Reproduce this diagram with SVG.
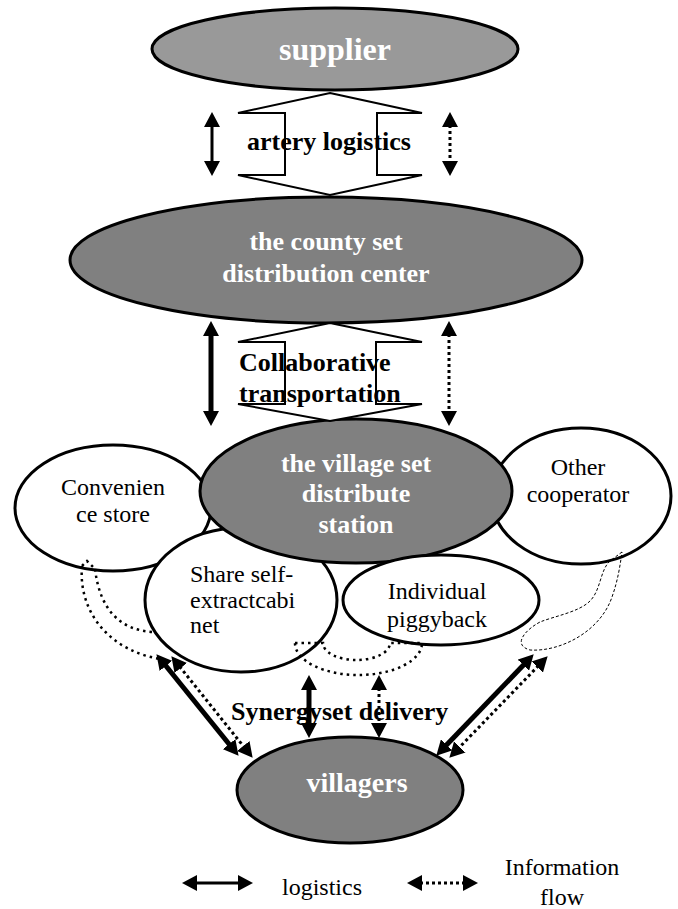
<svg xmlns="http://www.w3.org/2000/svg" width="678" height="909" viewBox="0 0 678 909">
<style>
.gray{fill:#808080;stroke:#000;stroke-width:3}
.light{fill:#999999;stroke:#000;stroke-width:3}
.white{fill:#fff;stroke:#000;stroke-width:3}
.bw{font-family:"Liberation Serif","Times New Roman",serif;font-weight:bold;fill:#fff;text-anchor:middle}
.bb{font-family:"Liberation Serif","Times New Roman",serif;font-weight:bold;fill:#000;font-size:26px}
.rt{font-family:"Liberation Serif","Times New Roman",serif;fill:#000;font-size:24px}
.mid{text-anchor:middle}
.block{fill:#fff;stroke:#000;stroke-width:2}
.sol{stroke:#000;fill:none;marker-start:url(#ah);marker-end:url(#ah)}
.dot{stroke:#000;fill:none;stroke-width:3;stroke-dasharray:3 3;marker-start:url(#ah);marker-end:url(#ah)}
.arc{fill:none;stroke:#000;stroke-width:2.5;stroke-dasharray:2.5 4}
.thin{fill:none;stroke:#000;stroke-width:1;stroke-dasharray:3 2}
</style>
<defs>
<marker id="ah" markerUnits="userSpaceOnUse" markerWidth="16" markerHeight="16" refX="2" refY="8" orient="auto-start-reverse" viewBox="0 0 16 16">
<path d="M0,0 L15,8 L0,16 z" fill="#000"/>
</marker>
</defs>
<rect width="678" height="909" fill="#fff"/>

<g id="supplier">
<ellipse class="light" cx="335" cy="49" rx="183" ry="41"/>
<text class="bw" x="335" y="60" font-size="32">supplier</text>
</g>

<g id="county">
<ellipse class="gray" cx="326" cy="260" rx="256" ry="63"/>
<text class="bw" x="326" y="250" font-size="26">the county set</text>
<text class="bw" x="326" y="282" font-size="26">distribution center</text>
</g>

<g id="convenience">
<ellipse class="white" cx="113" cy="508" rx="98" ry="63"/>
<text class="rt mid" x="113" y="495">Convenien</text>
<text class="rt mid" x="113" y="522">ce store</text>
</g>

<g id="other">
<ellipse class="white" cx="581" cy="496" rx="90" ry="68"/>
<text class="rt mid" x="578" y="475">Other</text>
<text class="rt mid" x="578" y="502">cooperator</text>
</g>

<g id="share">
<ellipse class="white" cx="241" cy="600" rx="96" ry="72"/>
<text class="rt" x="190" y="582">Share self-</text>
<text class="rt" x="190" y="608">extractcabi</text>
<text class="rt" x="190" y="633">net</text>
</g>

<g id="village">
<ellipse class="gray" cx="356" cy="491" rx="156" ry="72"/>
<text class="bw" x="356" y="472" font-size="26">the village set</text>
<text class="bw" x="356" y="502" font-size="26">distribute</text>
<text class="bw" x="356" y="533" font-size="26">station</text>
</g>

<g id="individual">
<ellipse class="white" cx="441" cy="600" rx="98" ry="45"/>
<text class="rt mid" x="437" y="599">Individual</text>
<text class="rt mid" x="437" y="627">piggyback</text>
</g>

<g id="villagers">
<ellipse class="gray" cx="350" cy="790" rx="113" ry="53"/>
<text class="bw" x="357" y="792" font-size="28">villagers</text>
</g>

<g id="connectors">
<polygon class="block" points="330,93 422,113 377,113 377,175 422,175 330,195 238,175 285,175 285,113 238,113"/>
<text class="bb mid" x="329" y="150">artery logistics</text>
<line class="sol" x1="212" y1="125" x2="212" y2="163" stroke-width="3"/>
<line class="dot" x1="450" y1="125" x2="450" y2="163"/>

<polygon class="block" points="330,323 422,342 376,342 376,404 422,404 330,421 238,404 285,404 285,342 238,342"/>
<text class="bb" x="239" y="371">Collaborative</text>
<text class="bb" x="239" y="402">transportation</text>
<line class="sol" x1="211" y1="334" x2="211" y2="413" stroke-width="5"/>
<line class="dot" x1="449" y1="334" x2="449" y2="413"/>

<path class="arc" d="M82,566 L87,561 L95,569"/>
<path class="arc" d="M82,566 C78,612 110,654 168,660"/>
<path class="arc" d="M95,569 C100,610 120,630 153,632"/>
<path class="arc" d="M295,643 L323,643 A33.5,17 0 0 0 390,643 L422,643 A63.5,32 0 0 1 295,643"/>
<path class="thin" d="M622,552 L610,561 C600,570 601,590 590,601 C579,612 555,616 540,622 C525,630 512,645 530,650 C560,652 600,632 612,597 C618,580 620,566 622,552 Z"/>

<line class="sol" x1="164.6" y1="664.3" x2="230.4" y2="745.7" stroke-width="5"/>
<line class="dot" x1="179.5" y1="666.4" x2="244.5" y2="747.6"/>
<line class="sol" x1="524.7" y1="663.7" x2="445.3" y2="746.3" stroke-width="5"/>
<line class="dot" x1="538.6" y1="665.6" x2="458.4" y2="748.4"/>
<line class="sol" x1="309" y1="688" x2="309" y2="725" stroke-width="5"/>
<line class="dot" x1="379" y1="688" x2="379" y2="725"/>
<text class="bb" x="231" y="720">Synergyset delivery</text>
</g>

<g id="legend">
<line class="sol" x1="195" y1="883" x2="240" y2="883" stroke-width="3"/>
<text class="rt mid" x="322" y="895">logistics</text>
<line class="dot" x1="420" y1="883" x2="465" y2="883"/>
<text class="rt mid" x="562" y="875">Information</text>
<text class="rt mid" x="562" y="905">flow</text>
</g>
</svg>
